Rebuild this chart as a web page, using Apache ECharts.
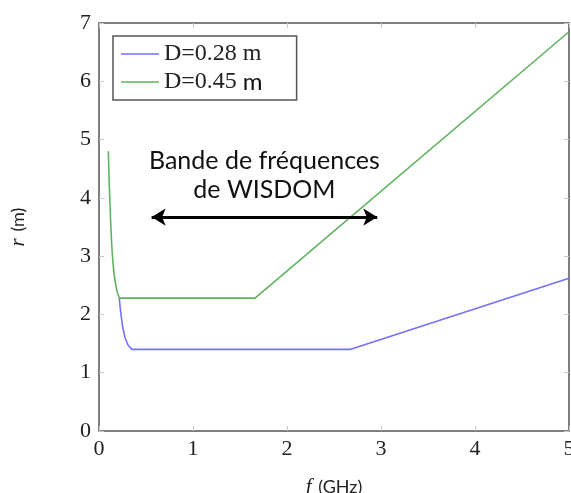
<!DOCTYPE html>
<html><head><meta charset="utf-8">
<script src="https://cdn.jsdelivr.net/npm/echarts@6/dist/echarts.min.js"></script>
<style>html,body{margin:0;padding:0;background:#fff}#c{width:571px;height:493px}</style>
</head><body><div id="c"></div>
<script>
var xTicks = [0, 1, 2, 3, 4, 5];
var yTicks = [0, 1, 2, 3, 4, 5, 6, 7];
var seriesNames = ['D=0.28 m', 'D=0.45 m'];
var fSmall = [0.216, 0.225, 0.234, 0.25, 0.277, 0.31, 0.35, 2.67, 5.0];
var rSmall = [2.28, 2.12, 2.0, 1.8, 1.6, 1.47, 1.4, 1.4, 2.62];
var fLarge = [0.1, 0.105, 0.11, 0.117, 0.125, 0.135, 0.147, 0.16, 0.175, 0.193, 0.216, 1.66, 5.0];
var rLarge = [4.8, 4.45, 4.2, 3.9, 3.55, 3.2, 2.92, 2.7, 2.53, 2.39, 2.28, 2.28, 6.85];
var bandF = [0.56, 2.96];
var bandR = 3.67;
var bandText = ['Bande de fréquences', 'de WISDOM'];

function pairs(xs, ys) { return xs.map(function (x, i) { return [x, ys[i]]; }); }

var chart = echarts.init(document.getElementById('c'), null, {renderer: 'canvas'});
var serif = 'Liberation Serif';
var tickStyle = {show: true, inside: true, length: 5, lineStyle: {color: '#c8c8c8', width: 1}};
var lineStyleAxis = {show: true, onZero: false, lineStyle: {color: '#7f7f7f', width: 2}};
chart.setOption({
  animation: false,
  grid: {left: 99, right: 2, top: 23, bottom: 62, containLabel: false, outerBoundsMode: 'none'},
  legend: {
    left: 113, top: 36, orient: 'vertical',
    padding: [6, 34, 6, 8], itemGap: 4,
    borderColor: '#555', borderWidth: 1.5, backgroundColor: '#fff',
    icon: 'rect', itemWidth: 38, itemHeight: 1.6,
    itemStyle: {borderWidth: 0},
    formatter: function (name) {
      var parts = name.split(' ');
      return '{s|' + parts[0] + ' }' + (name === seriesNames[0] ? '{s|' + parts[1] + '}' : '{m|' + parts[1] + '}');
    },
    textStyle: {
      rich: {
        s: {fontFamily: serif, fontSize: 24, color: '#222', lineHeight: 24},
        m: {fontFamily: 'Lato', fontSize: 24, color: '#111', lineHeight: 24}
      }
    },
    data: seriesNames
  },
  xAxis: [{
    type: 'value', min: xTicks[0], max: xTicks[xTicks.length - 1], interval: 1,
    axisLine: lineStyleAxis, axisTick: tickStyle, splitLine: {show: false},
    axisLabel: {fontFamily: serif, fontSize: 22, color: '#222', margin: 7, showMaxLabel: true},
    name: '{i|f}  {s|(GHz)}', nameLocation: 'middle', nameGap: 46,
    nameTextStyle: {rich: {i: {fontFamily: serif, fontStyle: 'italic', fontSize: 21, color: '#222'},
                           s: {fontFamily: 'Lato', fontSize: 18, color: '#222'}}}
  }, {
    type: 'value', position: 'top', min: xTicks[0], max: xTicks[xTicks.length - 1], interval: 1,
    axisLine: lineStyleAxis, axisTick: tickStyle, axisLabel: {show: false}, splitLine: {show: false}
  }],
  yAxis: [{
    type: 'value', min: yTicks[0], max: yTicks[yTicks.length - 1], interval: 1,
    axisLine: lineStyleAxis, axisTick: tickStyle, splitLine: {show: false},
    axisLabel: {fontFamily: serif, fontSize: 22, color: '#222', margin: 8},
    name: '{i|r}  {s|(m)}', nameLocation: 'middle', nameGap: 70, nameRotate: 90,
    nameTextStyle: {rich: {i: {fontFamily: serif, fontStyle: 'italic', fontSize: 21, color: '#222'},
                           s: {fontFamily: 'Lato', fontSize: 18, color: '#222'}}}
  }, {
    type: 'value', position: 'right', min: yTicks[0], max: yTicks[yTicks.length - 1], interval: 1,
    axisLine: lineStyleAxis, axisTick: tickStyle, axisLabel: {show: false}, splitLine: {show: false}
  }],
  series: [{
    name: seriesNames[0], type: 'line', data: pairs(fSmall, rSmall),
    showSymbol: false, symbol: 'none', smooth: false,
    color: '#7272ff', lineStyle: {color: '#7272ff', width: 1.6}
  }, {
    name: seriesNames[1], type: 'line', data: pairs(fLarge, rLarge),
    showSymbol: false, symbol: 'none', smooth: false,
    color: '#5fb35f', lineStyle: {color: '#5fb35f', width: 1.6},
    markLine: {
      silent: true, symbol: ['arrow', 'arrow'], symbolSize: [13, 14],
      lineStyle: {color: '#000', width: 3, type: 'solid'},
      label: {show: false},
      data: [[{coord: [bandF[0], bandR]}, {coord: [bandF[1], bandR]}]]
    },
    markPoint: {
      silent: true, symbol: 'rect', symbolSize: 1, itemStyle: {color: 'rgba(0,0,0,0)'},
      label: {show: true, position: 'inside', formatter: bandText.join('\n'),
              fontFamily: 'Lato', fontSize: 25, lineHeight: 29, color: '#111', align: 'center'},
      data: [{coord: [(bandF[0] + bandF[1]) / 2, bandR + 0.72]}]
    }
  }]
});
</script></body></html>
